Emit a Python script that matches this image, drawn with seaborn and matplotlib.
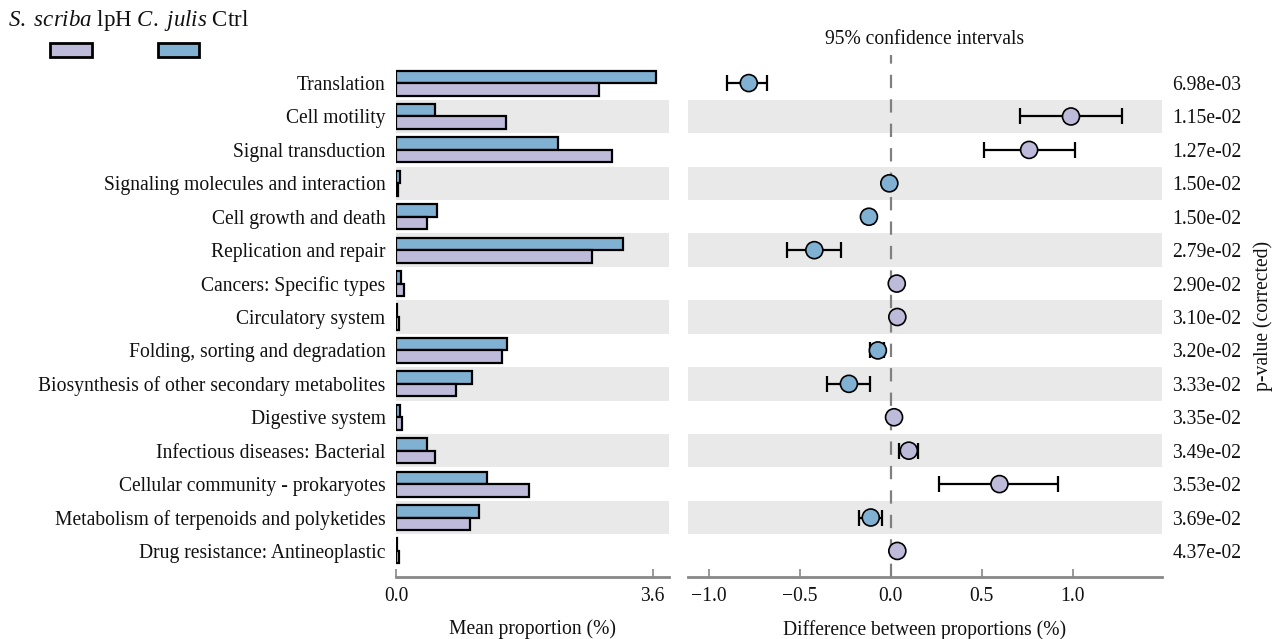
import numpy as np
import pandas as pd
import matplotlib
matplotlib.use("Agg")
import matplotlib.pyplot as plt
from matplotlib.patches import Rectangle
import seaborn as sns

# ---------------- data ----------------
categories = [
    "Translation", "Cell motility", "Signal transduction",
    "Signaling molecules and interaction", "Cell growth and death",
    "Replication and repair", "Cancers: Specific types", "Circulatory system",
    "Folding, sorting and degradation",
    "Biosynthesis of other secondary metabolites", "Digestive system",
    "Infectious diseases: Bacterial", "Cellular community - prokaryotes",
    "Metabolism of terpenoids and polyketides", "Drug resistance: Antineoplastic",
]
groups = ["S. scriba lpH", "C. julis Ctrl"]
mean_lph = [2.85, 1.54, 3.03, 0.03, 0.44, 2.75, 0.11, 0.04, 1.49, 0.84, 0.08, 0.55, 1.87, 1.04, 0.04]
mean_ctrl = [3.65, 0.55, 2.27, 0.05, 0.57, 3.18, 0.07, 0.01, 1.56, 1.07, 0.05, 0.44, 1.27, 1.16, 0.01]
diff = [-0.78, 0.99, 0.76, -0.008, -0.12, -0.42, 0.033, 0.036, -0.071, -0.23, 0.018, 0.099, 0.597, -0.11, 0.036]
ci_low = [-0.90, 0.71, 0.51, -0.015, -0.14, -0.57, 0.028, 0.032, -0.114, -0.35, 0.013, 0.046, 0.265, -0.174, 0.032]
ci_high = [-0.68, 1.27, 1.01, -0.001, -0.10, -0.275, 0.038, 0.040, -0.035, -0.115, 0.023, 0.15, 0.92, -0.048, 0.040]
pvalues = ["6.98e-03", "1.15e-02", "1.27e-02", "1.50e-02", "1.50e-02", "2.79e-02",
           "2.90e-02", "3.10e-02", "3.20e-02", "3.33e-02", "3.35e-02", "3.49e-02",
           "3.53e-02", "3.69e-02", "4.37e-02"]
left_ticks = [0.0, 3.6]
right_ticks = [-1.0, -0.5, 0.0, 0.5, 1.0]

# ---------------- style ----------------
sns.set_theme(style="white")
plt.rcParams["font.family"] = ["Liberation Serif", "DejaVu Serif"]
plt.rcParams["mathtext.fontset"] = "custom"
plt.rcParams["mathtext.rm"] = "Liberation Serif"
plt.rcParams["mathtext.it"] = "Liberation Serif:italic"
for k in ("text.color", "axes.labelcolor", "xtick.labelcolor", "ytick.labelcolor"):
    plt.rcParams[k] = "#111111"

c_lph = "#bebada"
c_ctrl = "#80b1d3"
band = "#e9e9e9"
spine_c = "#888888"
FS = 14.1

n = len(categories)
ylim = (n - 1 + 0.78, -0.84)

fig = plt.figure(figsize=(12.84, 6.39), dpi=100)
W, H = 1284, 639
ax1 = fig.add_axes([396 / W, (H - 577) / H, 273 / W, 522 / H])
ax2 = fig.add_axes([688 / W, (H - 577) / H, 474 / W, 522 / H])

df = pd.DataFrame({
    "category": categories * 2,
    "group": [groups[1]] * n + [groups[0]] * n,
    "value": mean_ctrl + mean_lph,
})

for ax in (ax1, ax2):
    for i in range(1, n, 2):
        ax.axhspan(i - 0.5, i + 0.5, color=band, zorder=0, lw=0)

sns.barplot(data=df, y="category", x="value", hue="group",
            hue_order=[groups[1], groups[0]], order=categories,
            palette={groups[0]: c_lph, groups[1]: c_ctrl}, saturation=1,
            orient="h", width=0.75, edgecolor="black", linewidth=1.6,
            legend=False, ax=ax1, zorder=2)
ax1.set_xlim(0, 3.83)
ax1.set_ylim(*ylim)
ax1.set_xticks(left_ticks)
ax1.set_xticklabels([f"{t:.1f}" for t in left_ticks])
ax1.set_xlabel("Mean proportion (%)", fontsize=FS, labelpad=10)
ax1.set_ylabel("")
ax1.tick_params(axis="y", length=0, pad=7.5, labelsize=FS)

# right panel
dfr = pd.DataFrame({"diff": diff, "pos": np.arange(n),
                    "sign": ["pos" if d > 0 else "neg" for d in diff]})
ax2.axvline(0, color="#808080", lw=1.6, ls=(0, (6, 5)), zorder=1)
ax2.errorbar(diff, np.arange(n),
             xerr=[np.array(diff) - np.array(ci_low), np.array(ci_high) - np.array(diff)],
             fmt="none", ecolor="black", elinewidth=1.6, capsize=6, capthick=1.6, zorder=2)
sns.scatterplot(data=dfr, x="diff", y="pos", hue="sign",
                palette={"pos": c_lph, "neg": c_ctrl}, s=150,
                edgecolor="black", linewidth=1.2, legend=False, ax=ax2, zorder=3)
ax2.set_xlim(-1.114, 1.49)
ax2.set_ylim(*ylim)
ax2.set_yticks([])
ax2.set_ylabel("")
ax2.set_xticks(right_ticks)
ax2.set_xticklabels([f"{t:.1f}".replace("-", "\u2212") for t in right_ticks])
ax2.set_xlabel("Difference between proportions (%)", fontsize=FS, labelpad=10)
ax2.set_title("95% confidence intervals", fontsize=FS, pad=8)

ax3 = ax2.twinx()
ax3.set_ylim(*ylim)
ax3.set_yticks(np.arange(n))
ax3.set_yticklabels(pvalues)
ax3.tick_params(axis="y", length=0, pad=7.5, labelsize=FS)
ax3.set_ylabel("p-value (corrected)", fontsize=FS, labelpad=8)

for ax in (ax1, ax2, ax3):
    for s in ("left", "right", "top", "bottom"):
        ax.spines[s].set_visible(False)
for ax in (ax1, ax2):
    ax.spines["bottom"].set_visible(True)
    ax.spines["bottom"].set_color(spine_c)
    ax.spines["bottom"].set_linewidth(2)
    ax.tick_params(axis="x", direction="in", length=6, width=1.2, color=spine_c,
                   labelsize=FS, pad=7, bottom=True)

# legend
def mt(name):
    parts = name.split(" ")
    it = r"\ ".join(parts[:-1])
    return r"$\mathit{" + it + "}$ " + parts[-1]

fig.text(8 / W, 1 - 26 / H, mt(groups[0]) + " " + mt(groups[1]),
         fontsize=16.5, ha="left", va="baseline")
fig.patches.append(Rectangle((50 / W, 1 - 57 / H), 42 / W, 14 / H, transform=fig.transFigure,
                             facecolor=c_lph, edgecolor="black", lw=2))
fig.patches.append(Rectangle((158 / W, 1 - 57 / H), 41 / W, 14 / H, transform=fig.transFigure,
                             facecolor=c_ctrl, edgecolor="black", lw=2))

fig.savefig("out.png", dpi=100)
